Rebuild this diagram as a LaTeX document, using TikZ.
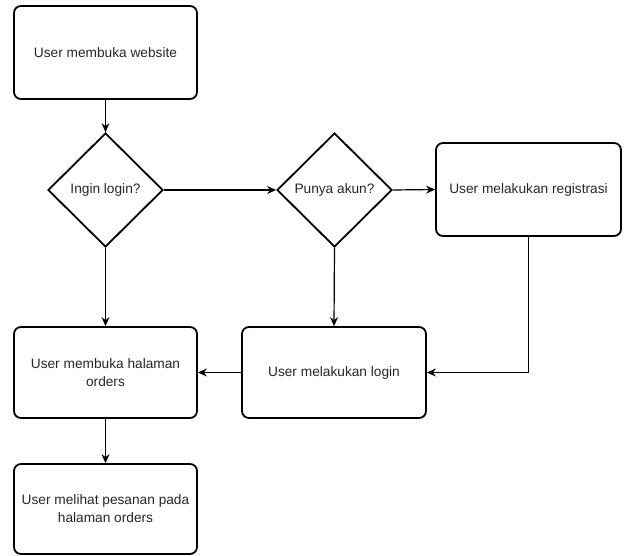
\documentclass[tikz,border=0pt]{standalone}
\usepackage{fontspec}
\setmainfont{Liberation Sans}
\usetikzlibrary{shapes.geometric,arrows.meta}
\definecolor{txt}{HTML}{262626}
\tikzset{
  stepbox/.style={draw, rounded corners=7pt, line width=1.8pt, align=center, inner sep=0pt,
    font=\fontsize{13.7}{18}\selectfont, text=txt},
  decide/.style={draw, diamond, line width=1.8pt, inner sep=0pt, aspect=1,
    font=\fontsize{13.7}{18}\selectfont, text=txt},
  conn/.style={line width=1.2pt, -{Stealth[length=9pt,width=8pt,inset=3pt]}}
}
\begin{document}
\begin{tikzpicture}[x=1pt,y=-1pt]
\useasboundingbox (0,0) rectangle (627,555);
\node[stepbox, minimum width=183pt, minimum height=93pt] (b1) at (105.5,52.5) {User membuka website};
\node[decide, minimum width=115pt, minimum height=114pt] (d1) at (105.5,190) {Ingin login?};
\node[decide, minimum width=115pt, minimum height=114pt] (d2) at (334.5,190) {Punya akun?};
\node[stepbox, minimum width=185pt, minimum height=93pt] (reg) at (528.5,189.5) {User melakukan registrasi};
\node[stepbox, minimum width=184pt, minimum height=91pt] (login) at (334,372.5) {User melakukan login};
\node[stepbox, minimum width=183pt, minimum height=91pt] (ord) at (105.5,372.5) {User membuka halaman\\orders};
\node[stepbox, minimum width=183pt, minimum height=90pt] (last) at (105.5,509) {User melihat pesanan pada\\halaman orders};
\draw[conn] (b1.south) -- (d1.north);
\draw[conn] (d1.east) -- (d2.west);
\draw[conn] (d2.east) -- (reg.west);
\draw[conn] (d2.south) -- (login.north);
\draw[conn] (reg.south) -- (reg.south |- login.east) -- (login.east);
\draw[conn] (login.west) -- (ord.east);
\draw[conn] (d1.south) -- (ord.north);
\draw[conn] (ord.south) -- (last.north);
\end{tikzpicture}
\end{document}
